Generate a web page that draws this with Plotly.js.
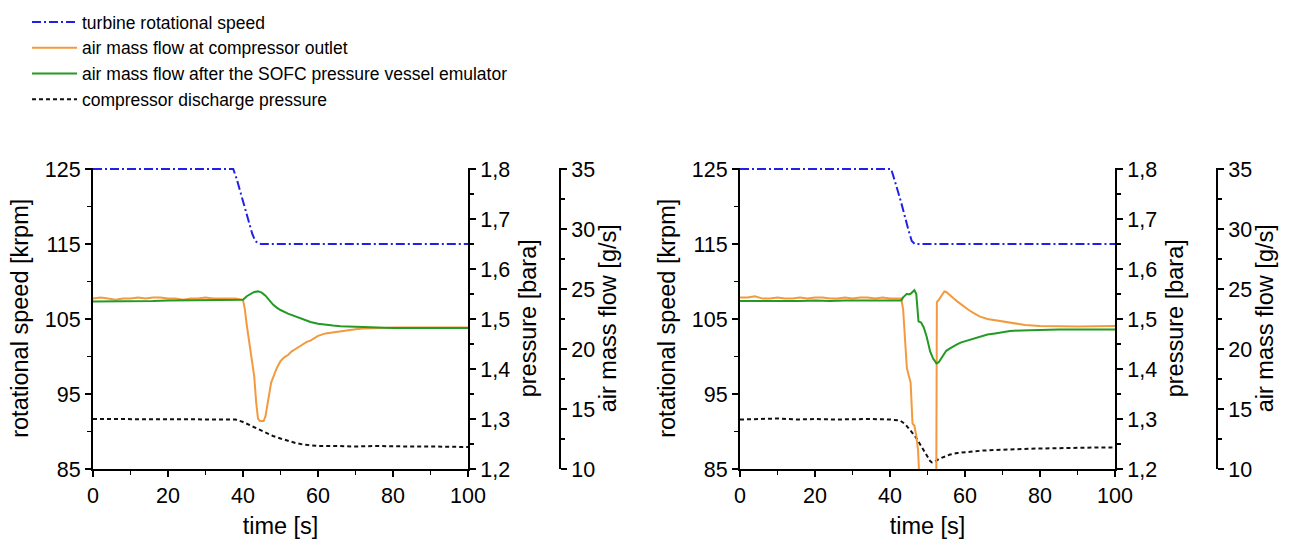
<!DOCTYPE html>
<html>
<head>
<meta charset="utf-8">
<script src="https://cdn.plot.ly/plotly-3.0.1.min.js"></script>
<style>
  html, body { margin: 0; padding: 0; background: #fff; }
  #chart { width: 1290px; height: 539px; }
</style>
</head>
<body>
<div id="chart"></div>
<script>
// ---- Load step A (left panel) ----
const speedA_t = [0, 37.4, 38.3, 39.5, 41, 42.5, 43.3, 44.0, 44.8, 100];
const speedA   = [125, 125, 123.7, 121.6, 118.9, 116.3, 115.4, 115.1, 115.0, 115.0];

const pressA_t = [0, 5, 10, 15, 20, 25, 30, 35, 38, 40, 42, 44, 46, 48, 50, 52, 54, 56, 58, 60, 65, 70, 75, 80, 85, 90, 95, 100];
const pressA   = [1.300, 1.300, 1.299, 1.300, 1.300, 1.299, 1.300, 1.300, 1.299, 1.294, 1.287, 1.280, 1.273, 1.266, 1.261, 1.256, 1.252, 1.249, 1.247, 1.246, 1.246, 1.245, 1.246, 1.245, 1.245, 1.245, 1.244, 1.244];

const flowOutA_t = [0, 2, 4, 6, 8, 10, 12, 14, 16, 18, 20, 22, 24, 26, 28, 30, 32, 34, 36, 38, 40,
  40.5, 41, 41.5, 42, 42.5, 43, 43.5, 44, 44.5, 45, 45.5, 46, 46.5, 47, 47.5, 48, 49, 50, 51, 52, 53, 54, 55, 56, 57, 58, 59, 60,
  62, 64, 66, 68, 70, 72, 74, 76, 78, 80, 82, 84, 86, 88, 90, 92, 94, 96, 98, 100];
const flowOutA = [24.2, 24.3, 24.2, 24.1, 24.2, 24.2, 24.3, 24.2, 24.3, 24.3, 24.2, 24.2, 24.1, 24.2, 24.2, 24.3, 24.2, 24.2, 24.2, 24.2, 24.1,
  23.3, 22.0, 20.9, 19.6, 18.6, 17.7, 15.6, 14.2, 14.0, 14.0, 14.0, 14.4, 15.4, 16.6, 17.2, 17.6, 18.4, 19.0, 19.3, 19.5, 19.8, 20.0, 20.2, 20.4, 20.6, 20.7, 20.9, 21.1,
  21.3, 21.4, 21.5, 21.6, 21.65, 21.7, 21.7, 21.75, 21.75, 21.8, 21.8, 21.8, 21.85, 21.8, 21.8, 21.85, 21.8, 21.8, 21.85, 21.8];

const flowVesA_t = [0, 4, 8, 12, 16, 20, 24, 28, 32, 36, 39.5, 40, 41, 42, 43, 44, 45, 46, 47, 48, 49, 50, 52, 54, 56, 58, 60,
  62, 64, 66, 68, 70, 75, 80, 85, 90, 95, 100];
const flowVesA   = [23.95, 23.95, 24.0, 24.0, 24.0, 24.05, 24.05, 24.05, 24.05, 24.05, 24.05, 24.1, 24.4, 24.6, 24.75, 24.8, 24.7, 24.45, 24.1, 23.7, 23.45, 23.25, 22.95, 22.7, 22.45, 22.25, 22.1,
  22.0, 21.95, 21.9, 21.87, 21.85, 21.8, 21.75, 21.75, 21.75, 21.75, 21.75];

// ---- Load step B (right panel) ----
const speedB_t = [0, 40.3, 41.3, 43.0, 44.9, 45.8, 46.6, 100];
const speedB   = [125, 125, 123.4, 120.5, 116.9, 115.4, 115.0, 115.0];

const pressB_t = [0, 5, 10, 15, 20, 25, 30, 35, 40, 42.7, 44, 45, 46, 47, 48, 49, 50, 50.7, 51.2, 52, 53, 54, 55, 56, 58, 60, 62, 65, 70, 75, 80, 85, 90, 95, 100];
const pressB   = [1.299, 1.300, 1.301, 1.299, 1.300, 1.299, 1.300, 1.300, 1.299, 1.297, 1.290, 1.282, 1.272, 1.262, 1.250, 1.237, 1.226, 1.216, 1.213, 1.215, 1.220, 1.223, 1.226, 1.229, 1.232, 1.234, 1.235, 1.237, 1.239, 1.240, 1.241, 1.242, 1.243, 1.243, 1.243];

const flowOutB_t = [0, 2, 4, 6, 8, 10, 12, 14, 16, 18, 20, 22, 24, 26, 28, 30, 32, 34, 36, 38, 40, 42, 43,
  43.5, 44, 44.5, 45, 45.5, 46, 46.5, 47, 47.5, 48, 50, 52.3, 52.5, 53, 53.5, 54, 54.5, 55, 56, 57, 58, 59, 60, 61, 62, 63, 64,
  66, 68, 70, 72, 74, 76, 80, 85, 90, 95, 100];
const flowOutB = [24.3, 24.3, 24.4, 24.2, 24.2, 24.3, 24.2, 24.2, 24.3, 24.2, 24.3, 24.3, 24.2, 24.2, 24.3, 24.2, 24.3, 24.3, 24.2, 24.3, 24.2, 24.2, 24.2,
  23.3, 20.5, 18.4, 17.8, 17.2, 13.8, 13.6, 12.8, 11.5, 8.0, 5.0, 5.0, 23.9, 24.1, 24.3, 24.6, 24.8, 24.75, 24.45, 24.2, 23.95, 23.7, 23.45, 23.25, 23.05, 22.85, 22.7,
  22.5, 22.4, 22.25, 22.15, 22.08, 22.0, 21.92, 21.87, 21.87, 21.9, 21.92];

const flowVesB_t = [0, 4, 8, 12, 16, 20, 24, 28, 32, 36, 40, 43, 43.5, 44, 44.5, 45, 45.5, 46, 46.5, 47, 47.4, 47.6, 48.3, 49, 49.8, 50.7, 51.5, 52.4,
  53, 54, 55, 56, 57, 58, 59, 60, 62, 64, 66, 68, 70, 72, 75, 80, 85, 90, 95, 100];
const flowVesB   = [24.0, 24.0, 23.95, 24.0, 24.0, 24.05, 24.0, 24.05, 24.05, 24.05, 24.05, 24.05, 24.3, 24.5, 24.6, 24.55, 24.6, 24.75, 24.9, 24.6, 22.5, 22.3, 22.2, 21.8, 21.0, 19.8, 19.2, 18.8,
  18.9, 19.4, 19.85, 20.05, 20.25, 20.4, 20.55, 20.65, 20.85, 21.0, 21.2, 21.3, 21.4, 21.5, 21.55, 21.6, 21.62, 21.62, 21.62, 21.62];

// ---- Legend labels ----
const seriesNames = [
  'turbine rotational speed',
  'air mass flow at compressor outlet',
  'air mass flow after the SOFC pressure vessel emulator',
  'compressor discharge pressure'
];

// ---- Styles ----
const FONT = 'Arial, "Liberation Sans", sans-serif';
const BLUE = '#2020e8', ORANGE = '#f39a3e', GREEN = '#239a23', BLACK = '#111111';
const speedLine = { color: BLUE, width: 2, dash: '9px,3px,2px,3px' };
const outLine   = { color: ORANGE, width: 2 };
const vesLine   = { color: GREEN, width: 2 };
const pressLine = { color: BLACK, width: 2, dash: '4px,3px' };

function panelTraces(xa, ySpeed, yPress, yFlow, data, legend) {
  return [
    { x: data.speedT, y: data.speed, xaxis: xa, yaxis: ySpeed, mode: 'lines', line: speedLine, name: seriesNames[0], showlegend: legend },
    { x: data.outT, y: data.out, xaxis: xa, yaxis: yFlow, mode: 'lines', line: outLine, name: seriesNames[1], showlegend: legend },
    { x: data.vesT, y: data.ves, xaxis: xa, yaxis: yFlow, mode: 'lines', line: vesLine, name: seriesNames[2], showlegend: legend },
    { x: data.pressT, y: data.press, xaxis: xa, yaxis: yPress, mode: 'lines', line: pressLine, name: seriesNames[3], showlegend: legend }
  ];
}

const traces = [].concat(
  panelTraces('x', 'y', 'y2', 'y3',
    { speedT: speedA_t, speed: speedA, outT: flowOutA_t, out: flowOutA, vesT: flowVesA_t, ves: flowVesA, pressT: pressA_t, press: pressA }, true),
  panelTraces('x2', 'y4', 'y5', 'y6',
    { speedT: speedB_t, speed: speedB, outT: flowOutB_t, out: flowOutB, vesT: flowVesB_t, ves: flowVesB, pressT: pressB_t, press: pressB }, false)
);

// Geometry: each axis runs a hair past its top tick so the 125 krpm line is not cut
const W = 1290, H = 539;
const pxPerSpeed = 7.5;                 // px per krpm
const headroom = 0.2;                   // krpm above the top tick
const plotBottom = 469, plotTop = 169 - headroom * pxPerSpeed;
const yDomain = [(H - plotBottom) / H, (H - plotTop) / H];
const xDomA = [93 / W, 468 / W];
const xDomB = [740 / W, 1115 / W];
const speedRange = [85, 125 + headroom];
const pressRange = [1.2, 1.8 + headroom * 0.6 / 40];
const flowRange  = [10, 35 + headroom * 25 / 40];

const tickFont = { family: FONT, size: 21.5, color: '#000' };
const titleFont = { family: FONT, size: 23.5, color: '#000' };

function axisBase(extra) {
  return Object.assign({
    showline: true, linecolor: '#000', linewidth: 2,
    ticks: 'outside', ticklen: 6, tickwidth: 2, tickcolor: '#000',
    showgrid: false, zeroline: false, automargin: false,
    tickfont: tickFont, fixedrange: true
  }, extra);
}

const minorTicks = (d) => ({ dtick: d, ticks: 'outside', ticklen: 4, tickwidth: 1.5, tickcolor: '#000', showgrid: false });

function timeAxis(domain, anchor) {
  return axisBase({
    domain: domain, anchor: anchor, range: [0, 100], tick0: 0, dtick: 20, minor: minorTicks(10),
    title: { text: 'time [s]', font: titleFont, standoff: 18 }
  });
}

function speedAxis(anchor) {
  return axisBase({
    domain: yDomain, anchor: anchor, range: speedRange, tick0: 85, dtick: 10, minor: minorTicks(5),
    title: { text: 'rotational speed [krpm]', font: titleFont, standoff: 10 }
  });
}

function pressAxis(overlay, anchor) {
  return axisBase({
    overlaying: overlay, anchor: anchor, side: 'right', range: pressRange, tick0: 1.2, dtick: 0.1, tickformat: '.1f',
    minor: minorTicks(0.05),
    title: { text: 'pressure [bara]', font: titleFont, standoff: 10 }
  });
}

function flowAxis(overlay, pos) {
  return axisBase({
    overlaying: overlay, anchor: 'free', position: pos, side: 'right', range: flowRange, tick0: 10, dtick: 5,
    minor: minorTicks(2.5),
    title: { text: 'air mass flow [g/s]', font: titleFont, standoff: 3 }
  });
}

const layout = {
  width: W, height: H,
  margin: { l: 0, r: 0, t: 0, b: 0, pad: 0 },
  paper_bgcolor: '#fff', plot_bgcolor: 'rgba(0,0,0,0)',
  separators: ', ',
  font: { family: FONT, color: '#000' },
  showlegend: true,
  legend: {
    x: 27 / W, y: 1 - 4 / H, xanchor: 'left', yanchor: 'top',
    bgcolor: 'rgba(0,0,0,0)', borderwidth: 0,
    font: { family: FONT, size: 17.5, color: '#000' },
    itemwidth: 45, tracegroupgap: 0
  },
  xaxis: timeAxis(xDomA, 'y'),
  yaxis: speedAxis('x'),
  yaxis2: pressAxis('y', 'x'),
  yaxis3: flowAxis('y', 560 / W),
  xaxis2: timeAxis(xDomB, 'y4'),
  yaxis4: speedAxis('x2'),
  yaxis5: pressAxis('y4', 'x2'),
  yaxis6: flowAxis('y4', 1217 / W)
};

Plotly.newPlot('chart', traces, layout, { displayModeBar: false, staticPlot: true });
</script>
</body>
</html>
